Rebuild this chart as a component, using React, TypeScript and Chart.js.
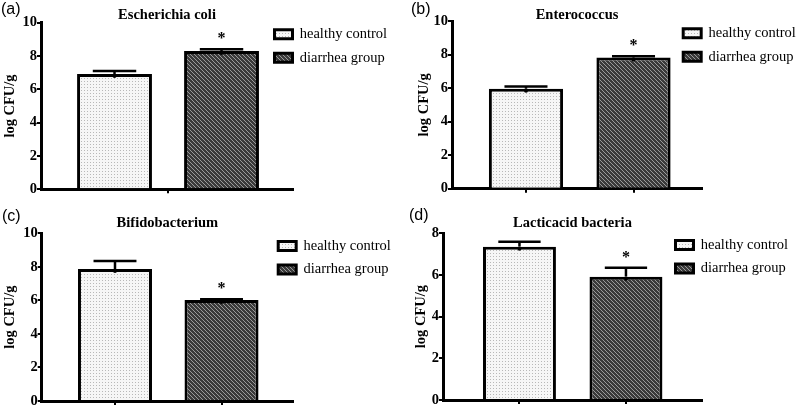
import React, { useEffect, useRef } from 'react';
import { Chart, registerables } from 'chart.js';

Chart.register(...registerables);

// ---------- data ----------
const seriesLabels = ['healthy control', 'diarrhea group'];
const panelLetters = ['(a)', '(b)', '(c)', '(d)'];
const panelTitles = ['Escherichia coli', 'Enterococcus', 'Bifidobacterium', 'Lacticacid bacteria'];
const yAxisTitle = 'log CFU/g';
const healthyMeans = [6.92, 5.96, 7.87, 7.36];
const healthyErrors = [0.18, 0.14, 0.48, 0.24];
const diarrheaMeans = [8.3, 7.83, 6.02, 5.92];
const diarrheaErrors = [0.1, 0.07, 0.05, 0.43];
const healthyMarks = ['', '', '', ''];
const diarrheaMarks = ['*', '*', '*', '*'];
const yMaxValues = [10, 10, 10, 8];
const yStep = 2;
const xTickPositions = [[1.5], [1, 2], [1, 2], [1, 2]];

// ---------- layout (pixels) ----------
const GEOM = [
  { left: 0, top: 0, w: 400, h: 205, aL: 41, aR: 293, aT: 22.7, aB: 189.3, tC: 15, yT: 10, lgX: 274.5, lgY: 34.3, xMin: 0.313, xMax: 2.668, bp: 0.7, letterX: 1, letterY: 1.4 },
  { left: 400, top: 0, w: 399, h: 205, aL: 52, aR: 302, aT: 21, aB: 188.7, tC: 15, yT: 24, lgX: 283.2, lgY: 33.3, xMin: 0.312, xMax: 2.637, bp: 0.69, letterX: 411, letterY: 1.4 },
  { left: 0, top: 205, w: 400, h: 205, aL: 41.7, aR: 293, aT: 28.3, aB: 196, tC: 18.3, yT: 10, lgX: 278.2, lgY: 41, xMin: 0.312, xMax: 2.671, bp: 0.695, letterX: 2, letterY: 208.1 },
  { left: 400, top: 205, w: 399, h: 205, aL: 43, aR: 302, aT: 28.3, aB: 195, tC: 18.3, yT: 21, lgX: 275.5, lgY: 40, xMin: 0.282, xMax: 2.714, bp: 0.685, letterX: 409, letterY: 207.3 },
];

const SERIF = '"Liberation Serif", "Times New Roman", serif';
const SANS = '"Liberation Sans", Arial, sans-serif';
const LEGEND_PAD = 9;
const LEGEND_FONT = 14.5;

function makeDots(): CanvasPattern | string {
  const c = document.createElement('canvas');
  c.width = 3; c.height = 3;
  const x = c.getContext('2d');
  if (!x) return '#eeeeee';
  x.fillStyle = '#f6f6f6';
  x.fillRect(0, 0, 3, 3);
  x.fillStyle = '#b8b8b8';
  x.fillRect(0, 0, 1, 1);
  return x.createPattern(c, 'repeat') || '#eeeeee';
}

function makeHatch(): CanvasPattern | string {
  const c = document.createElement('canvas');
  c.width = 4; c.height = 4;
  const x = c.getContext('2d');
  if (!x) return '#555555';
  x.fillStyle = '#3a3a3a';
  x.fillRect(0, 0, 4, 4);
  x.fillStyle = '#9a9a9a';
  for (let k = 0; k < 4; k++) x.fillRect(k, k, 1, 1);
  return x.createPattern(c, 'repeat') || '#555555';
}

const errorBarPlugin = {
  id: 'errorBars',
  afterDatasetsDraw(chart: any) {
    const ctx = chart.ctx;
    const yScale = chart.scales.y;
    chart.data.datasets.forEach((ds: any, d: number) => {
      const meta = chart.getDatasetMeta(d);
      meta.data.forEach((bar: any, j: number) => {
        const v = ds.data[j].y;
        const e = ds.errors[j];
        const base = yScale.getPixelForValue(v);
        const top = yScale.getPixelForValue(v + e);
        const half = bar.width * 0.29;
        ctx.save();
        ctx.strokeStyle = '#000';
        ctx.fillStyle = '#000';
        ctx.lineWidth = 2.5;
        ctx.beginPath();
        ctx.moveTo(bar.x, base);
        ctx.lineTo(bar.x, top);
        ctx.stroke();
        ctx.lineWidth = 2.5;
        ctx.beginPath();
        ctx.moveTo(bar.x - half, top);
        ctx.lineTo(bar.x + half, top);
        ctx.stroke();
        ctx.beginPath();
        ctx.arc(bar.x, base + 2, 2, 0, Math.PI * 2);
        ctx.fill();
        const mark = ds.marks[j];
        if (mark) {
          ctx.font = `bold 16px ${SERIF}`;
          ctx.textAlign = 'center';
          ctx.textBaseline = 'middle';
          ctx.fillText(mark, bar.x, top - 10);
        }
        ctx.restore();
      });
    });
  },
};

const legendPlacePlugin = {
  id: 'legendPlace',
  afterLayout(chart: any, _args: any, opts: any) {
    const lg = chart.legend;
    if (!lg) return;
    const w = lg.width;
    const h = lg.height;
    lg.left = opts.x;
    lg.right = opts.x + w;
    lg.top = opts.y;
    lg.bottom = opts.y + h;
  },
};

function Panel({ i }: { i: number }) {
  const ref = useRef<HTMLCanvasElement>(null);
  const g = GEOM[i];
  useEffect(() => {
    if (!ref.current) return;
    const dots = makeDots();
    const hatch = makeHatch();
    const titleSize = 14.5;
    const titleLine = 2 * (g.aT - g.tC);
    const layoutTop = 2 * g.tC - g.aT;
    const chart = new Chart(ref.current, {
      type: 'bar',
      data: {
        datasets: [
          {
            label: seriesLabels[0],
            data: [{ x: 1, y: healthyMeans[i] }],
            errors: [healthyErrors[i]],
            marks: [healthyMarks[i]],
            backgroundColor: dots,
            borderColor: '#000',
            borderWidth: 3,
          } as any,
          {
            label: seriesLabels[1],
            data: [{ x: 2, y: diarrheaMeans[i] }],
            errors: [diarrheaErrors[i]],
            marks: [diarrheaMarks[i]],
            backgroundColor: hatch,
            borderColor: '#000',
            borderWidth: 3,
          } as any,
        ],
      },
      options: {
        responsive: false,
        animation: false,
        events: [],
        categoryPercentage: 1,
        barPercentage: g.bp,
        layout: { padding: { left: 0, right: g.w - g.aR, top: layoutTop, bottom: 0 } },
        plugins: {
          title: {
            display: true,
            text: panelTitles[i],
            color: '#000',
            fullSize: false,
            font: { family: SERIF, size: titleSize, weight: 'bold', lineHeight: titleLine / titleSize },
            padding: { top: 0, bottom: 0 },
          },
          legend: {
            display: true,
            position: 'chartArea',
            align: 'start',
            labels: {
              boxWidth: 18,
              boxHeight: 9,
              padding: LEGEND_PAD,
              color: '#000',
              font: { family: SERIF, size: LEGEND_FONT },
            },
          },
          tooltip: { enabled: false },
          legendPlace: { x: g.lgX - LEGEND_PAD, y: g.lgY - LEGEND_PAD - LEGEND_FONT / 2 },
        } as any,
        scales: {
          x: {
            type: 'linear',
            min: g.xMin,
            max: g.xMax,
            stacked: true,
            offset: false,
            afterBuildTicks: (scale: any) => {
              scale.ticks = xTickPositions[i].map((v) => ({ value: v }));
            },
            afterFit: (scale: any) => {
              scale.height = g.h - g.aB;
            },
            ticks: { display: false },
            grid: { display: true, offset: false, drawOnChartArea: false, drawTicks: true, tickLength: 4, color: '#000', lineWidth: 2 },
            border: { display: true, color: '#000', width: 3 },
          },
          y: {
            type: 'linear',
            min: 0,
            max: yMaxValues[i],
            afterFit: (scale: any) => {
              scale.width = g.aL;
            },
            ticks: {
              stepSize: yStep,
              color: '#000',
              padding: 0,
              font: { family: SERIF, size: 14.5, weight: 'bold' },
            },
            title: {
              display: true,
              text: yAxisTitle,
              color: '#000',
              font: { family: SERIF, size: 14.5, weight: 'bold', lineHeight: 1.2 },
              padding: { top: g.yT - 8.7, bottom: 0 },
            },
            grid: { display: true, drawOnChartArea: false, drawTicks: true, tickLength: 4, color: '#000', lineWidth: 2 },
            border: { display: true, color: '#000', width: 3 },
          },
        },
      } as any,
      plugins: [errorBarPlugin, legendPlacePlugin],
    });
    return () => chart.destroy();
  }, [i]);
  return (
    <canvas
      ref={ref}
      width={g.w}
      height={g.h}
      style={{ position: 'absolute', left: g.left, top: g.top, width: g.w, height: g.h }}
    />
  );
}

export default function App() {
  return (
    <div style={{ position: 'absolute', left: 0, top: 0, width: 799, height: 410, background: '#fff', overflow: 'hidden' }}>
      {GEOM.map((g, i) => (
        <Panel key={i} i={i} />
      ))}
      {GEOM.map((g, i) => (
        <div
          key={'l' + i}
          style={{ position: 'absolute', left: g.letterX, top: g.letterY, fontFamily: SANS, fontSize: 16, lineHeight: '16px', color: '#000', whiteSpace: 'nowrap' }}
        >
          {panelLetters[i]}
        </div>
      ))}
    </div>
  );
}
